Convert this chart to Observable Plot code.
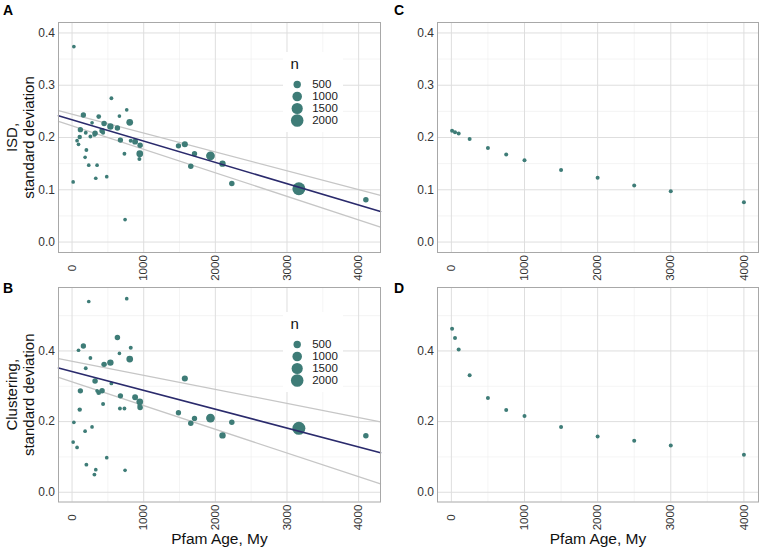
<!DOCTYPE html>
<html><head><meta charset="utf-8">
<script src="https://cdn.jsdelivr.net/npm/d3@7"></script>
<script src="https://cdn.jsdelivr.net/npm/@observablehq/plot@0.6"></script>
<style>
body{margin:0;background:#fff;}
#root{position:relative;width:760px;height:549px;overflow:hidden;background:#fff;font-family:"Liberation Sans",Arial,sans-serif;}
.lab{position:absolute;font-weight:bold;font-size:14px;line-height:14px;color:#000;}
</style></head><body><div id="root"></div>
<script>
// ---- Data: panels A/B (per Pfam family) ----
const ages = [15, 25, 70, 90, 107, 116, 158, 182, 191, 200, 233, 256, 279, 312, 321, 331, 349, 372, 419, 433, 447, 484, 535, 549, 633, 661, 675, 668, 731, 740, 763, 805, 819, 880, 945, 950, 940, 1485, 1574, 1657, 1709, 1932, 2100, 2230, 3166, 4101];
const counts = [40, 40, 40, 40, 90, 180, 180, 40, 50, 50, 40, 50, 40, 50, 200, 40, 40, 120, 200, 60, 200, 40, 330, 50, 200, 40, 180, 50, 50, 40, 40, 380, 60, 250, 380, 200, 60, 180, 280, 200, 180, 800, 320, 200, 2150, 200];
const isdSD = [0.115, 0.374, 0.194, 0.187, 0.201, 0.215, 0.243, 0.162, 0.209, 0.176, 0.147, 0.202, 0.228, 0.205, 0.208, 0.122, 0.147, 0.240, 0.213, 0.209, 0.227, 0.125, 0.221, 0.275, 0.218, 0.241, 0.195, 0.196, 0.169, 0.043, 0.253, 0.229, 0.194, 0.192, 0.169, 0.185, 0.159, 0.184, 0.187, 0.145, 0.169, 0.165, 0.150, 0.112, 0.102, 0.081];
const clustSD = [0.142, 0.198, 0.127, 0.402, 0.234, 0.287, 0.414, 0.173, 0.351, 0.078, 0.540, 0.380, 0.185, 0.050, 0.315, 0.064, 0.287, 0.282, 0.287, 0.250, 0.362, 0.098, 0.367, 0.308, 0.438, 0.393, 0.273, 0.237, 0.237, 0.062, 0.548, 0.377, 0.409, 0.269, 0.256, 0.240, 0.245, 0.225, 0.322, 0.195, 0.209, 0.210, 0.161, 0.198, 0.181, 0.160];
// fitted line and band edges: [intercept, slope per My]
const isdFit = [0.234, -4.08e-5];
const isdUpper = [0.2448, -3.614e-5];
const isdLower = [0.2225, -4.502e-5];
const clustFit = [0.3419, -5.34e-5];
const clustUpper = [0.371, -3.983e-5];
const clustLower = [0.3123, -6.71e-5];
// ---- Data: panels C/D (age bins) ----
const binAges = [10, 50, 100, 250, 500, 750, 1000, 1500, 2000, 2500, 3000, 4000];
const binIsd = [0.213, 0.210, 0.2075, 0.197, 0.180, 0.1675, 0.1565, 0.138, 0.123, 0.108, 0.097, 0.076];
const binClust = [0.463, 0.437, 0.404, 0.331, 0.267, 0.233, 0.216, 0.185, 0.158, 0.146, 0.132, 0.106];
// ---- ticks & legend ----
const xMajor = [0, 1000, 2000, 3000, 4000];
const xMinor = [500, 1500, 2500, 3500];
const yMajorTop = [0, 0.1, 0.2, 0.3, 0.4];
const yMinorTop = [0.05, 0.15, 0.25, 0.35];
const yMajorBot = [0, 0.2, 0.4];
const yMinorBot = [0.1, 0.3, 0.5];
const yLimitsTop = [0, 0.4];
const yLimitsBot = [0, 0.552];
const legendN = [500, 1000, 1500, 2000];

const FONT = '"Liberation Sans", Arial, sans-serif';
const PT = "#3e7c77";
const root = document.getElementById("root");
const rScale = {type: "sqrt", domain: [500, 2000], range: [3.7, 6.3]};
const expand = ([a, b]) => { const r = b - a; return [a - 0.05 * r, b + 0.05 * r]; };
const xDomAB = expand(d3.extent(ages));
const xDomCD = expand(d3.extent(binAges));
const yDomTop = expand(yLimitsTop);
const yDomBot = expand(yLimitsBot);
const famRows = ages.map((a, i) => ({age: a, n: counts[i], isd: isdSD[i], clust: clustSD[i]}));
const binRows = binAges.map((a, i) => ({age: a, isd: binIsd[i], clust: binClust[i]}));
const lineRows = (p, dom) => dom.map(x => ({x, y: p[0] + p[1] * x}));

function place(el, left, top) {
  el.style.position = "absolute"; el.style.left = left + "px"; el.style.top = top + "px";
  root.appendChild(el);
}

function makePanel(o) {
  const marks = [
    Plot.ruleX(xMinor, {stroke: "#ececec", strokeWidth: 0.6}),
    Plot.ruleY(o.yMinor, {stroke: "#ececec", strokeWidth: 0.6}),
    Plot.ruleX(xMajor, {stroke: "#dedede", strokeWidth: 1}),
    Plot.ruleY(o.yMajor, {stroke: "#dedede", strokeWidth: 1}),
    ...o.marks,
    Plot.frame({stroke: "#a8a8a8", strokeWidth: 1}),
    Plot.text(xMajor, {x: d => d, text: d => String(d), frameAnchor: "bottom", dy: 15.5, rotate: -90, textAnchor: "middle", lineAnchor: "middle", fontSize: 11.5, fill: "#333"}),
    Plot.text(o.yMajor, {y: d => d, text: d => d.toFixed(1), frameAnchor: "left", dx: -3.5, textAnchor: "end", lineAnchor: "middle", fontSize: 12, fill: "#333"})
  ];
  if (o.ytitle) marks.push(Plot.text([o.ytitle], {text: d => d, frameAnchor: "left", dx: -38.3, rotate: -90, textAnchor: "middle", lineAnchor: "middle", lineHeight: 1.1, fontSize: 15, fill: "#111"}));
  if (o.xtitle) marks.push(Plot.text([o.xtitle], {text: d => d, frameAnchor: "bottom", dy: 36.8, textAnchor: "middle", lineAnchor: "middle", fontSize: 15.5, fill: "#111"}));
  const svg = Plot.plot({
    width: o.width, height: o.height,
    marginLeft: o.mLeft, marginRight: 2, marginTop: o.mTop, marginBottom: o.mBottom,
    x: {domain: o.xDom, axis: null},
    y: {domain: o.yDom, axis: null},
    r: rScale,
    style: {fontFamily: FONT, background: "transparent", overflow: "visible"},
    marks
  });
  place(svg, o.left, o.top);
}

function makeLegend(left, top) {
  const svg = Plot.plot({
    width: 60, height: 80, margin: 0,
    x: {domain: [0, 1], axis: null},
    y: {type: "point", domain: legendN, range: [30.8, 68.5], padding: 0, axis: null},
    r: rScale,
    style: {fontFamily: FONT, background: "#fff"},
    marks: [
      Plot.text(["n"], {text: d => d, frameAnchor: "top-left", dx: 7, dy: 16, lineAnchor: "bottom", textAnchor: "start", fontSize: 15, fill: "#111"}),
      Plot.dot(legendN, {y: d => d, r: d => d, frameAnchor: "left", dx: 13.7, fill: PT}),
      Plot.text(legendN, {y: d => d, text: d => String(d), frameAnchor: "left", dx: 28.7, textAnchor: "start", lineAnchor: "middle", fontSize: 11.5, fill: "#1a1a1a"})
    ]
  });
  place(svg, left, top);
}

const bandMarks = (fit, up, lo, dom, key) => [
  Plot.line(lineRows(up, dom), {x: "x", y: "y", stroke: "#c6c6c6", strokeWidth: 1.3}),
  Plot.line(lineRows(lo, dom), {x: "x", y: "y", stroke: "#c6c6c6", strokeWidth: 1.3}),
  Plot.dot(famRows, {x: "age", y: key, r: "n", fill: PT, stroke: "none"}),
  Plot.line(lineRows(fit, dom), {x: "x", y: "y", stroke: "#2a2a6c", strokeWidth: 1.6})
];

// A
makePanel({left: 0, top: 0, width: 382, height: 285, mLeft: 58, mTop: 22, mBottom: 33,
  xDom: xDomAB, yDom: yDomTop, yMajor: yMajorTop, yMinor: yMinorTop,
  ytitle: "ISD,\nstandard deviation",
  marks: bandMarks(isdFit, isdUpper, isdLower, xDomAB, "isd")});
// B
makePanel({left: 0, top: 285, width: 382, height: 264, mLeft: 58, mTop: 2, mBottom: 47.5,
  xDom: xDomAB, yDom: yDomBot, yMajor: yMajorBot, yMinor: yMinorBot,
  ytitle: "Clustering,\nstandard deviation", xtitle: "Pfam Age, My",
  marks: bandMarks(clustFit, clustUpper, clustLower, xDomAB, "clust")});
// C
makePanel({left: 380, top: 0, width: 380, height: 285, mLeft: 57, mTop: 22, mBottom: 33,
  xDom: xDomCD, yDom: yDomTop, yMajor: yMajorTop, yMinor: yMinorTop,
  marks: [Plot.dot(binRows, {x: "age", y: "isd", r: 2, fill: PT})]});
// D
makePanel({left: 380, top: 285, width: 380, height: 264, mLeft: 57, mTop: 2, mBottom: 47.5,
  xDom: xDomCD, yDom: yDomBot, yMajor: yMajorBot, yMinor: yMinorBot, xtitle: "Pfam Age, My",
  marks: [Plot.dot(binRows, {x: "age", y: "clust", r: 2, fill: PT})]});

makeLegend(283, 52);
makeLegend(283, 312);

[["A", 3, 3], ["B", 3, 281], ["C", 394, 3], ["D", 394, 281]].forEach(([t, l, tp]) => {
  const d = document.createElement("div");
  d.className = "lab"; d.textContent = t; d.style.left = l + "px"; d.style.top = tp + "px";
  root.appendChild(d);
});
</script></body></html>
